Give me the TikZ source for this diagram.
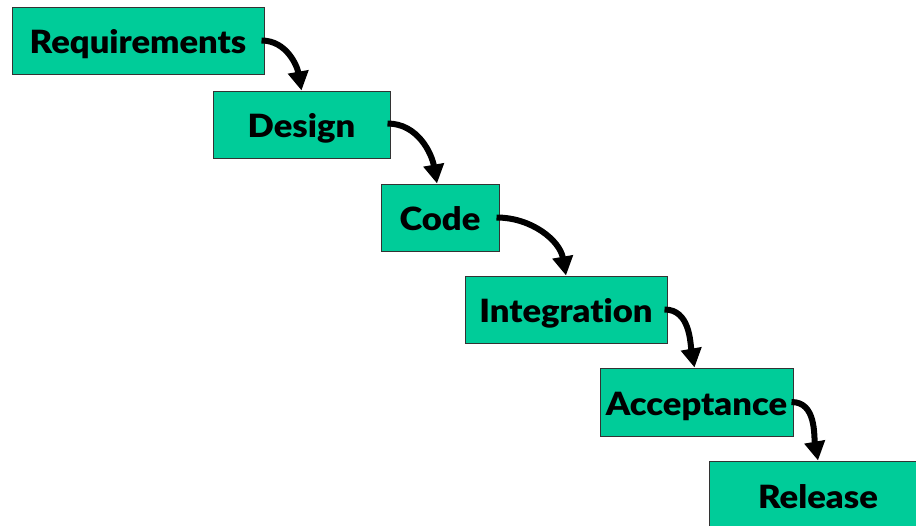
\documentclass[tikz,border=0pt]{standalone}
\usepackage{fontspec}
\setmainfont{Lato}[BoldFont={Lato Black},BoldFeatures={FakeStretch=1.08},Ligatures=NoCommon]
\usetikzlibrary{arrows.meta}
\definecolor{stepgreen}{HTML}{00CC99}
\definecolor{edgegray}{HTML}{333333}
\begin{document}
\begin{tikzpicture}[x=1pt,y=-1pt,
  stepbox/.style={draw=edgegray,line width=1pt,fill=stepgreen,inner sep=0pt,
    text height=26pt,text depth=0pt,
    font=\fontsize{32}{34}\selectfont\bfseries},
  flow/.style={line width=6pt,-{Triangle[width=20pt,length=19pt]}}]
\useasboundingbox (0,0) rectangle (916,525);
\clip (0,0) rectangle (916,525);
\node[stepbox,minimum width=252pt,minimum height=67pt] (req) at (138,40.5) {Requirements};
\node[stepbox,minimum width=177pt,minimum height=67pt] (des) at (301.5,124.5) {Design};
\node[stepbox,minimum width=118pt,minimum height=67pt] (cod) at (440,217.5) {Code};
\node[stepbox,minimum width=202pt,minimum height=67pt] (int) at (566,309.5) {Integration};
\node[stepbox,minimum width=193pt,minimum height=68pt] (acc) at (696.5,402) {Acceptance};
\node[stepbox,minimum width=218pt,minimum height=68pt] (rel) at (818,495) {Release};
\draw[flow] ([xshift=-3pt]req.east) to[out=0,in=100] (des.north);
\draw[flow] ([xshift=-3pt,yshift=1pt]des.east) to[out=0,in=100] ([xshift=-3pt]cod.north);
\draw[flow] ([xshift=-3pt]cod.east) to[out=0,in=100] (int.north);
\draw[flow] ([xshift=-3pt]int.east) to[out=0,in=100] ([xshift=-2pt]acc.north);
\draw[flow] ([xshift=-2pt]acc.east) to[out=0,in=100] (rel.north);
\end{tikzpicture}
\end{document}
